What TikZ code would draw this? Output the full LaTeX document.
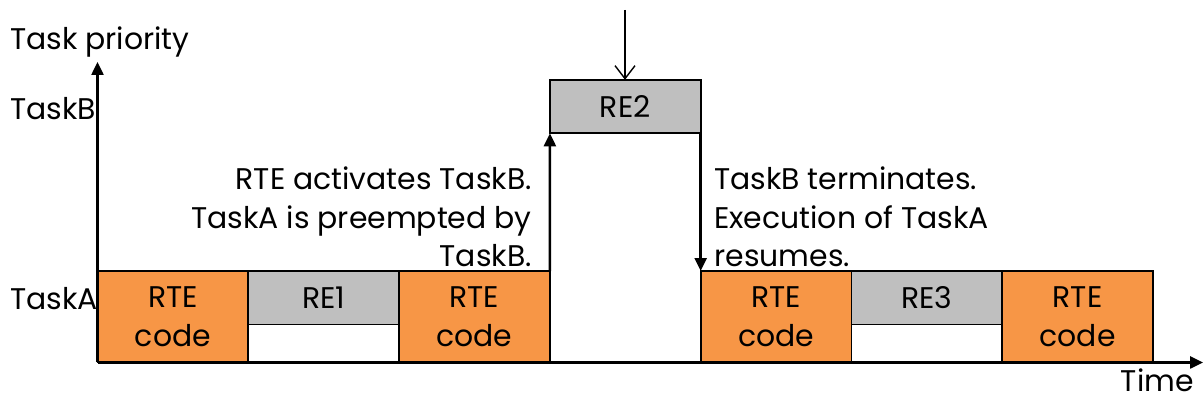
\documentclass[tikz,border=0pt]{standalone}
\usepackage{fontspec}
\setmainfont{Poppins}
\usetikzlibrary{arrows.meta, positioning}
\definecolor{rteorange}{HTML}{F79646}
\definecolor{regray}{HTML}{BFBFBF}

\begin{document}
\begin{tikzpicture}[
    x=0.02cm, y=-0.02cm,
    font=\fontsize{17}{22}\selectfont,
    codebox/.style={
        draw, line width=1pt, fill=rteorange, align=center,
        inner sep=0pt, outer sep=0pt, minimum width=3.016cm, minimum height=1.83cm
    },
    rebox/.style={
        draw, line width=1pt, fill=regray, align=center,
        inner sep=0pt, outer sep=0pt, minimum width=3.016cm, minimum height=1.07cm
    },
    notetext/.style={inner sep=0pt},
    axis/.style={draw, line width=1.4pt, -{Triangle[length=0.26cm, width=0.24cm]}},
    trigger/.style={draw, line width=0.8pt, -{Straight Barb[length=0.26cm, width=0.4cm]}}
]
    \useasboundingbox (0,0) rectangle (1203,401);

    % TaskB level
    \node[rebox, anchor=south west] (re2) at (549.9,133.3) {RE2};

    % TaskA level
    \node[codebox, anchor=south west] (rte1) at (97.5,362.5) {RTE\\code};
    \node[rebox, anchor=north west] (re1) at (rte1.north east) {RE1};
    \node[codebox, anchor=north west] (rte2) at (re1.north east) {RTE\\code};
    \node[codebox, anchor=north west] (rte3) at (re2.south east |- rte2.north) {RTE\\code};
    \node[rebox, anchor=north west] (re3) at (rte3.north east) {RE3};
    \node[codebox, anchor=north west] (rte4) at (re3.north east) {RTE\\code};

    % axes
    \coordinate (origin) at (97.5,362.5);
    \coordinate (ytip) at (97.5,62);
    \coordinate (xtip) at (1203,362.5);
    \draw[axis] (origin) -- (ytip);
    \draw[axis] (origin) -- (xtip);

    \node[notetext, anchor=base west] (prio) at (10,50) {Task priority};
    \node[notetext, anchor=base west] (taskb) at (10,120) {TaskB};
    \node[notetext, anchor=base west] (taska) at (10,310) {TaskA};
    \node[notetext, anchor=base east] (time) at (1194,392) {Time};

    % switches
    \draw[axis] (rte2.north east) -- (re2.south west);
    \draw[axis] (re2.south east) -- (rte3.north west);
    \coordinate (event) at (625,10);
    \draw[trigger] (event) -- (event |- re2.north);

    \node[notetext, anchor=base east, align=right] (activate) at (532,267)
        {RTE activates TaskB.\\TaskA is preempted by\\TaskB.};
    \node[notetext, anchor=base west, align=left] (resume) at (714,267)
        {TaskB terminates.\\Execution of TaskA\\resumes.};
\end{tikzpicture}
\end{document}
